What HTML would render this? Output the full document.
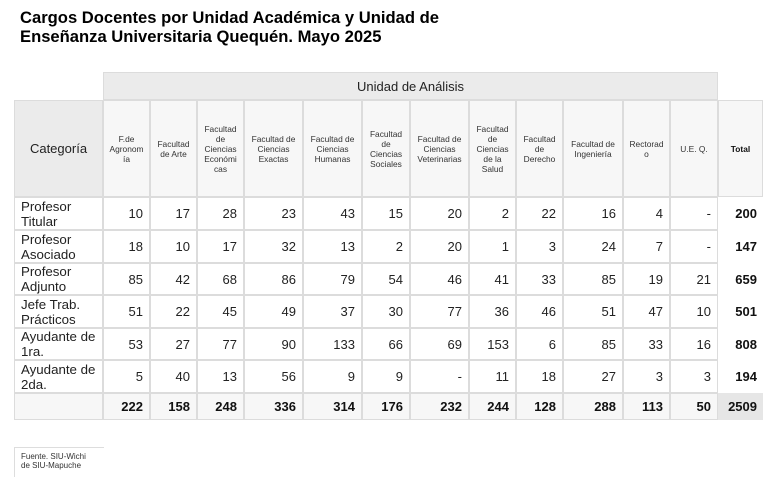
<!DOCTYPE html>
<html><head><meta charset="utf-8"><style>
body{margin:0;width:779px;height:482px;background:#fff;font-family:"Liberation Sans",sans-serif;position:relative;overflow:hidden}
.t{position:absolute;left:20px;top:8px;font-size:16.6px;font-weight:bold;line-height:19px;color:#000}
.c{position:absolute;box-sizing:border-box;display:flex;align-items:center;color:#222}
.b{border:1px solid #dcdcdc}
.h{background:#f7f7f7;justify-content:center;text-align:center;font-size:8.4px;line-height:10px;color:#333;padding:0 5px}
.n{justify-content:flex-end;padding-right:6px;font-size:13px;background:#fff}
.l{font-size:13.3px;line-height:15px;padding-left:6px;background:#fff}
.bold{font-weight:bold;color:#111}
</style></head><body>
<div class="t">Cargos Docentes por Unidad Académica y Unidad de<br>Enseñanza Universitaria Quequén. Mayo 2025</div>
<div class="c b" style="left:103px;top:72px;width:615px;height:28px;background:#ebebeb;justify-content:center;font-size:13px">Unidad de Análisis</div>
<div class="c b" style="left:14px;top:100px;width:89px;height:97px;background:#ebebeb;justify-content:center;font-size:13px">Categoría</div>
<div class="c b h" style="left:103px;top:100px;width:47px;height:97px">F.de Agronom ía</div>
<div class="c b h" style="left:150px;top:100px;width:47px;height:97px">Facultad de Arte</div>
<div class="c b h" style="left:197px;top:100px;width:47px;height:97px">Facultad de Ciencias Económi cas</div>
<div class="c b h" style="left:244px;top:100px;width:59px;height:97px">Facultad de Ciencias Exactas</div>
<div class="c b h" style="left:303px;top:100px;width:59px;height:97px">Facultad de Ciencias Humanas</div>
<div class="c b h" style="left:362px;top:100px;width:48px;height:97px">Facultad de Ciencias Sociales</div>
<div class="c b h" style="left:410px;top:100px;width:59px;height:97px">Facultad de Ciencias Veterinarias</div>
<div class="c b h" style="left:469px;top:100px;width:47px;height:97px">Facultad de Ciencias de la Salud</div>
<div class="c b h" style="left:516px;top:100px;width:47px;height:97px">Facultad de Derecho</div>
<div class="c b h" style="left:563px;top:100px;width:60px;height:97px">Facultad de Ingeniería</div>
<div class="c b h" style="left:623px;top:100px;width:47px;height:97px">Rectorad o</div>
<div class="c b h" style="left:670px;top:100px;width:48px;height:97px">U.E. Q.</div>
<div class="c b h bold" style="left:718px;top:100px;width:45px;height:97px">Total</div>
<div id="g"></div>
<div style="position:absolute;left:14px;top:447px;width:90px;height:30px;border-top:1px solid #ddd;border-left:1px solid #ddd;font-size:8px;line-height:9px;color:#333;padding:4px 0 0 6px;box-sizing:border-box">Fuente. SIU-Wichi<br>de SIU-Mapuche</div>
<script>
var cols=[103,150,197,244,303,362,410,469,516,563,623,670,718,763];
var rows=[197,230,263,295,328,360,393,420];
var labels=["Profesor Titular","Profesor Asociado","Profesor Adjunto","Jefe Trab. Prácticos","Ayudante de 1ra.","Ayudante de 2da.",""];
var d=[[10,17,28,23,43,15,20,2,22,16,4,"-",200],[18,10,17,32,13,2,20,1,3,24,7,"-",147],[85,42,68,86,79,54,46,41,33,85,19,21,659],[51,22,45,49,37,30,77,36,46,51,47,10,501],[53,27,77,90,133,66,69,153,6,85,33,16,808],[5,40,13,56,9,9,"-",11,18,27,3,3,194],[222,158,248,336,314,176,232,244,128,288,113,50,2509]];
var h="";
for(var r=0;r<7;r++){var y=rows[r],ht=rows[r+1]-y,tot=r==6;
h+='<div class="c b l" style="left:14px;top:'+y+'px;width:89px;height:'+ht+'px;'+(tot?'background:#f7f7f7':'')+'">'+labels[r]+'</div>';
for(var c=0;c<13;c++){var x=cols[c],w=cols[c+1]-x,last=c==12;
var st='left:'+x+'px;top:'+y+'px;width:'+w+'px;height:'+ht+'px;';
if(tot)st+=last?'background:#e6e6e6;':'background:#f7f7f7;';
h+='<div class="c n '+(last?'':'b ')+((tot||last)?'bold':'')+'" style="'+st+'">'+d[r][c]+'</div>';}}
document.getElementById('g').innerHTML=h;
</script>
</body></html>
